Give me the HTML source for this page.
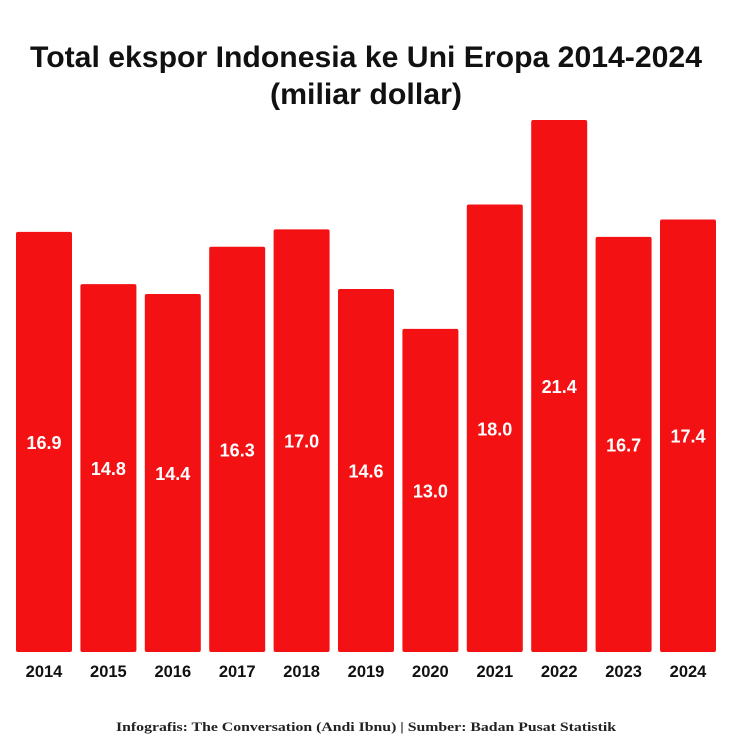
<!DOCTYPE html>
<html><head><meta charset="utf-8"><style>
body{margin:0;background:#fff;}
svg{display:block;}
</style></head><body>
<svg id="chart" width="754" height="754" viewBox="0 0 754 754">
<text x="366" y="67" text-anchor="middle" textLength="672" lengthAdjust="spacingAndGlyphs" font-family="Liberation Sans, sans-serif" font-weight="bold" font-size="30" fill="#111">Total ekspor Indonesia ke Uni Eropa 2014-2024</text>
<text x="366" y="104" text-anchor="middle" textLength="192" lengthAdjust="spacingAndGlyphs" font-family="Liberation Sans, sans-serif" font-weight="bold" font-size="30" fill="#111">(miliar dollar)</text>
<g id="bars"></g>
<text x="366" y="731" text-anchor="middle" textLength="500" lengthAdjust="spacingAndGlyphs" font-family="Liberation Serif, serif" font-weight="bold" font-size="13" fill="#222">Infografis: The Conversation (Andi Ibnu) | Sumber: Badan Pusat Statistik</text>
</svg>
<script>
const categories=["2014","2015","2016","2017","2018","2019","2020","2021","2022","2023","2024"];
const values=[16.9,14.8,14.4,16.3,17.0,14.6,13.0,18.0,21.4,16.7,17.4];
const valueLabels=["16.9","14.8","14.4","16.3","17.0","14.6","13.0","18.0","21.4","16.7","17.4"];
const ns="http://www.w3.org/2000/svg";
const g=document.getElementById('bars');
const baseY=652, scale=(652-120)/21.4, x0=16, step=64.4, bw=56;
function xPos(i){return x0+i*step;}
function yPos(v){return baseY-v*scale;}
categories.forEach((c,i)=>{
  const x=xPos(i), y=yPos(values[i]);
  const r=document.createElementNS(ns,'rect');
  r.setAttribute('x',x);r.setAttribute('y',y);r.setAttribute('width',bw);r.setAttribute('height',baseY-y);
  r.setAttribute('rx',2);r.setAttribute('fill','#f41114');
  
  
  g.appendChild(r);
  const t=document.createElementNS(ns,'text');
  t.setAttribute('x',x+bw/2);t.setAttribute('y',(y+baseY)/2+7);
  t.setAttribute('text-anchor','middle');t.setAttribute('fill','#fff');
  t.setAttribute('font-family','Liberation Sans, sans-serif');t.setAttribute('font-weight','bold');t.setAttribute('font-size','18');
  t.textContent=valueLabels[i];
  
  
  g.appendChild(t);
  const l=document.createElementNS(ns,'text');
  l.setAttribute('x',x+bw/2);l.setAttribute('y',677);
  l.setAttribute('text-anchor','middle');l.setAttribute('fill','#111');
  l.setAttribute('font-family','Liberation Sans, sans-serif');l.setAttribute('font-weight','bold');l.setAttribute('font-size','16.5');
  l.textContent=c;
  
  
  g.appendChild(l);
});
</script>
</body></html>
